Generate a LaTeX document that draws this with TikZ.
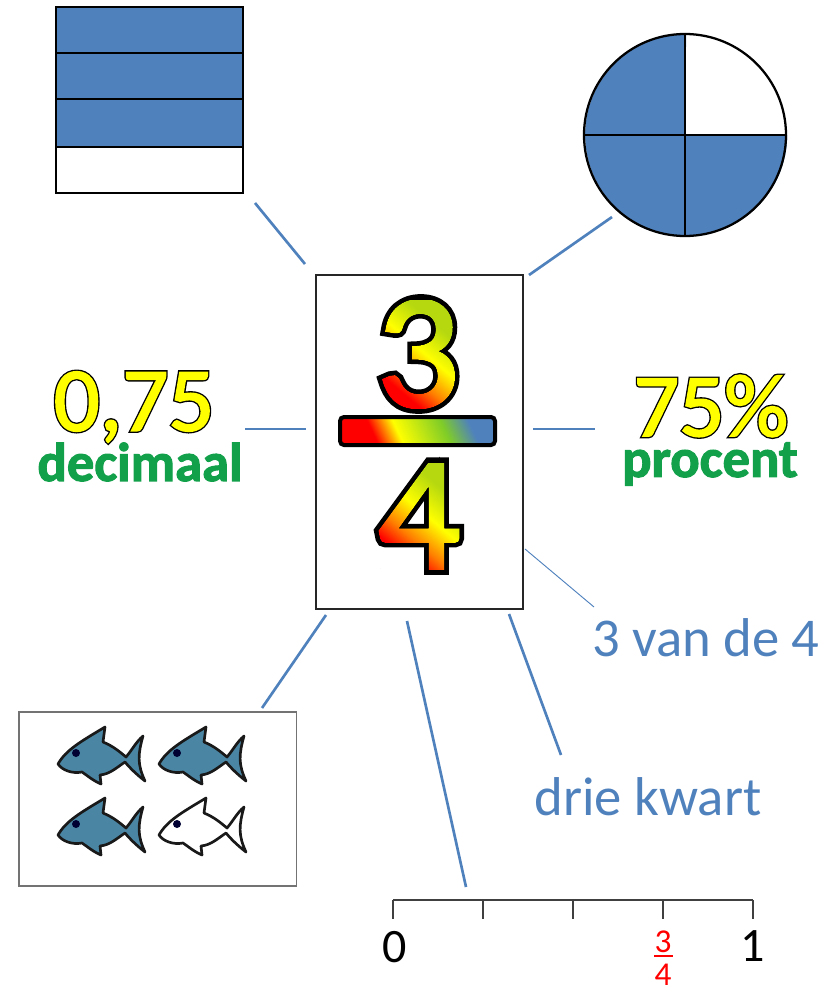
\documentclass[tikz,border=0pt]{standalone}
\usepackage{fontspec}
\setmainfont{Carlito}
\newfontfamily\cfill[FakeBold=2.5]{Carlito}
\newfontfamily\outl[FakeBold=8]{Carlito}
\newfontfamily\outlb[FakeBold=5]{Carlito}
\newfontfamily\outlc[FakeBold=2]{Carlito}
\newfontfamily\outlg[FakeBold=2]{Carlito Bold}
\usetikzlibrary{fadings,shadings}
\definecolor{bl}{HTML}{4F81BD}
\definecolor{fishc}{HTML}{4A86A4}
\definecolor{grn}{HTML}{12A04A}
\definecolor{yel}{HTML}{FFFF00}
\definecolor{lime}{HTML}{B5D80F}
\definecolor{mgreen}{HTML}{7FCC28}
\pgfdeclarehorizontalshading{rainbow}{100bp}{color(0bp)=(red);color(31bp)=(red);color(40bp)=(orange);color(52bp)=(yellow);color(66bp)=(lime);color(100bp)=(lime)}
\pgfdeclarehorizontalshading{rainbowbar}{100bp}{color(0bp)=(red);color(32bp)=(red);color(42bp)=(yellow);color(61bp)=(mgreen);color(72bp)=(bl);color(100bp)=(bl)}
\begin{tikzfadingfrompicture}[name=fthree]
\node[text=transparent!0,inner sep=0pt,font=\fontsize{122}{122}\selectfont\cfill] {3};
\end{tikzfadingfrompicture}
\begin{tikzfadingfrompicture}[name=ffour]
\node[text=transparent!0,inner sep=0pt,font=\fontsize{122}{122}\selectfont\cfill] {4};
\end{tikzfadingfrompicture}
\tikzset{
 conn/.style={draw=bl,line width=2pt},
 num/.style={inner sep=0pt,font=\fontsize{#1}{#1}\selectfont},
 lbl/.style={inner sep=0pt,text=bl,font=\fontsize{41}{41}\selectfont},
 pics/fish/.style={code={
  \draw[fill=#1,draw=black!90,line width=2pt,line join=round]
   (0,0) .. controls (8,-14) and (22,-22) .. (47,-37) -- (45,-22)
   .. controls (55,-18) and (62,-12) .. (68,-7)
   .. controls (74,-14) and (78,-22) .. (85,-28)
   .. controls (80,-10) and (79,0) .. (87,17)
   .. controls (78,10) and (72,4) .. (67,-2)
   .. controls (58,4) and (52,10) .. (42,11) -- (43,20)
   .. controls (34,16) and (30,12) .. (24,8)
   .. controls (14,10) and (4,6) .. (0,0) -- cycle;
  \fill[black!80!blue] (18,-11) circle (4);
 }}
}
\begin{document}
\begin{tikzpicture}[x=0.75pt,y=-0.75pt]
\useasboundingbox (0,0) rectangle (836,988);
% bars
\node[minimum width=140.25pt,minimum height=139.5pt,inner sep=0pt] (bars) at (149.5,100) {};
\fill[bl] (56,7) rectangle (243,147);
\draw[line width=1.7pt] (56,53) -- (243,53) (56,99) -- (243,99) (56,147) -- (243,147);
\draw[line width=1.7pt] (56,7) rectangle (243,193);
% circle
\node[circle,line width=1.7pt,minimum size=151.5pt,inner sep=0pt] (pie) at (685,135) {};
\fill[bl] (pie.center) -- (pie.east) arc[start angle=0,end angle=-270,radius=75.75pt] -- cycle;
\draw[line width=1.7pt] (pie.north) -- (pie.south) (pie.east) -- (pie.west);
\draw[line width=1.7pt] (pie.center) circle[radius=75.75pt];
% central box
\node[draw=black!85,line width=1.4pt,minimum width=155pt,minimum height=250.5pt,inner sep=0pt] (main) at (419.5,442) {};
\node[num=122,text=black] (t3b) at (418,354) {\outl 3};
\shade[shading=rainbow,shading angle=50,path fading=fthree,fit fading=false,fading transform={shift={(418,354)}}] (372,295) rectangle (464,412);
\node[num=122,text=black] (t4b) at (419,516) {\outl 4};
\shade[shading=rainbow,shading angle=50,path fading=ffour,fit fading=false,fading transform={shift={(419,516)}}] (370,455) rectangle (468,575);
\shade[rounded corners=3pt,shading=rainbowbar,shading angle=25] (340,417) rectangle (495,445);
\path[draw=black,line width=3pt,rounded corners=3pt] (340,417) rectangle (495,445);
% left/right
\node[num=68,text=black] (d1) at (134,407) {\outlb 0,75};
\node[num=68,text=yel] (d1b) at (134,407) {\outlc 0,75};
\node[num=41,text=grn] (d2) at (140,462) {\outlg decimaal};
\node[num=67,text=black] (p1) at (711,406) {\outlb 75\%};
\node[num=67,text=yel] (p1b) at (711,406) {\outlc 75\%};
\node[num=41,text=grn] (p2) at (710,464) {\outlg procent};
\node[lbl] (van) at (706,638) {3 van de 4};
\node[lbl] (kwart) at (648,797) {drie kwart};
% fish box
\node[draw=black!55,line width=1pt,minimum width=208pt,minimum height=130.5pt,inner sep=0pt] (fbox) at (157.5,799) {};
\pic at (58,764) {fish=fishc};
\pic at (159,764) {fish=fishc};
\pic at (58,835) {fish=fishc};
\pic at (159,835) {fish=white};
% number line
\coordinate (n0) at (393,900); \coordinate (n1) at (483,900); \coordinate (n2) at (573,900); \coordinate (n3) at (663,900); \coordinate (n4) at (753,900);
\draw[black!75,line width=1.5pt] (n0) -- (n4);
\foreach \n in {n0,n1,n2,n3,n4} \draw[black!75,line width=1.5pt] (\n) -- ++(0,19);
\node[num=36] (l0) at (395,947) {0};
\node[num=36] (l1) at (753,946) {1};
\node[inner sep=0pt,text=red,font=\fontsize{25}{25}\selectfont] (l3) at (663,942) {3};
\node[inner sep=0pt,text=red,font=\fontsize{25}{25}\selectfont] (l4) at (663,975) {4};
\draw[red,line width=1.2pt] (654,956) -- (673,956);
% connectors
\coordinate (c1a) at (255,203); \coordinate (c1b) at (305,264);
\coordinate (c2a) at (612,217); \coordinate (c2b) at (529,275);
\coordinate (c3a) at (245,429); \coordinate (c3b) at (306,429);
\coordinate (c4a) at (533,429); \coordinate (c4b) at (595,429);
\coordinate (c5a) at (525,549); \coordinate (c5b) at (594,607);
\coordinate (c6a) at (326,615); \coordinate (c6b) at (262,708);
\coordinate (c7a) at (407,621); \coordinate (c7b) at (466,887);
\coordinate (c8a) at (509,614); \coordinate (c8b) at (561,755);
\draw[conn] (c1a) -- (c1b);
\draw[conn] (c2a) -- (c2b);
\draw[conn] (c3a) -- (c3b);
\draw[conn] (c4a) -- (c4b);
\draw[conn,line width=0.7pt] (c5a) -- (c5b);
\draw[conn] (c6a) -- (c6b);
\draw[conn] (c7a) -- (c7b);
\draw[conn] (c8a) -- (c8b);
\end{tikzpicture}
\end{document}
